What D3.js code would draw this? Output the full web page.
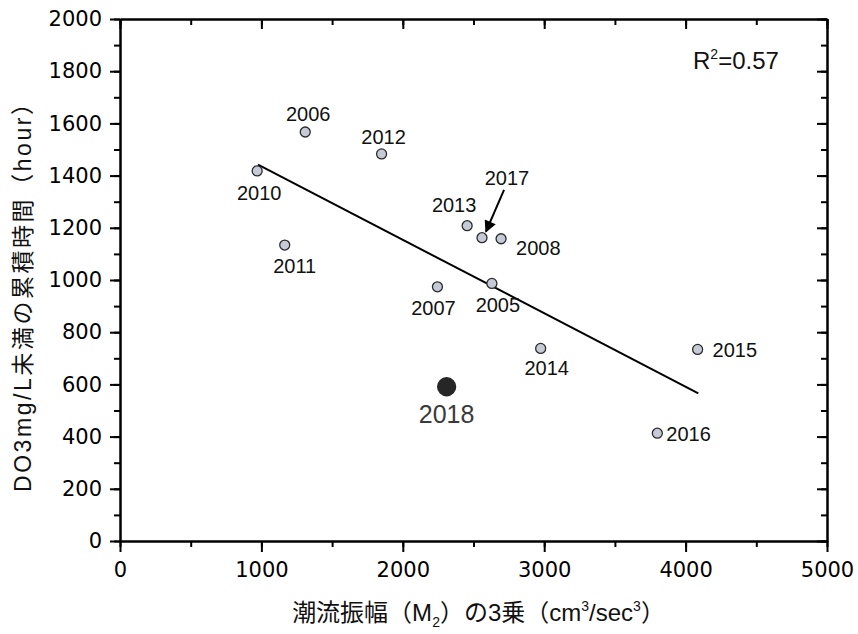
<!DOCTYPE html>
<html>
<head>
<meta charset="utf-8">
<script src="https://cdn.jsdelivr.net/npm/d3@7"></script>
<style>
  body { margin: 0; background: #fff; }
  svg { display: block; }
</style>
</head>
<body>
<div id="chart"></div>
<script>
// data
const years = ["2005", "2006", "2007", "2008", "2010", "2011", "2012", "2013", "2014", "2015", "2016", "2017", "2018"];
const tidalCube = [2630, 1310, 2245, 2695, 970, 1165, 1850, 2455, 2975, 4085, 3800, 2560, 2310];
const lowDOHours = [987, 1567, 974, 1158, 1418, 1134, 1483, 1208, 738, 734, 413, 1162, 591];
const highlightYear = "2018";
const fitLine = [[976, 1442], [4090, 566]];
const rSquared = "0.57";
const arrow2017 = [[2716, 1345], [2588, 1185]];
const xTicks = [0, 1000, 2000, 3000, 4000, 5000];
const yTicks = [0, 200, 400, 600, 800, 1000, 1200, 1400, 1600, 1800, 2000];

// label placement (pixels relative to each point)
const labelOffsets = {
  "2005": [6, 29, "middle"], "2006": [3, -11, "middle"], "2007": [-4, 28, "middle"],
  "2008": [15, 16, "start"], "2010": [2, 29, "middle"], "2011": [10, 28, "middle"],
  "2012": [2, -10, "middle"], "2013": [-13, -14, "middle"], "2014": [6, 27, "middle"],
  "2015": [15, 8, "start"], "2016": [9, 8, "start"], "2017": [25, -53, "middle"],
  "2018": [0, 36, "middle"]
};

const width = 858, height = 634;
const margin = { left: 120, right: 31, top: 19, bottom: 93 };

const svg = d3.select("#chart").append("svg")
  .attr("width", width)
  .attr("height", height);

const x = d3.scaleLinear().domain([0, 5000]).range([margin.left, width - margin.right]);
const y = d3.scaleLinear().domain([0, 2000]).range([height - margin.bottom, margin.top]);

const tickFont = "'DejaVu Sans', sans-serif";
const labelFont = "'Liberation Sans', Arial, sans-serif";
const cjkFont = "'Liberation Sans', 'Noto Sans CJK JP', sans-serif";

// axes: left/bottom ticks outward, top/right mirrored inward
function styleAxis(sel) {
  sel.selectAll("path.domain").attr("stroke", "#000").attr("stroke-width", 2);
  sel.selectAll(".tick line").attr("stroke", "#000").attr("stroke-width", 2);
  sel.selectAll(".tick text").attr("fill", "#000").attr("font-family", tickFont).attr("font-size", 21);
}

const xMinor = d3.range(0, 5001, 500);
const yMinor = d3.range(0, 2001, 100);

// minor ticks
svg.append("g").attr("transform", `translate(0,${y(0)})`)
  .call(d3.axisBottom(x).tickValues(xMinor).tickSize(6).tickSizeOuter(0).tickFormat(""))
  .call(styleAxis);
svg.append("g").attr("transform", `translate(0,${y(2000)})`)
  .call(d3.axisTop(x).tickValues(xMinor).tickSize(-6).tickSizeOuter(0).tickFormat(""))
  .call(styleAxis);
svg.append("g").attr("transform", `translate(${x(0)},0)`)
  .call(d3.axisLeft(y).tickValues(yMinor).tickSize(6).tickSizeOuter(0).tickFormat(""))
  .call(styleAxis);
svg.append("g").attr("transform", `translate(${x(5000)},0)`)
  .call(d3.axisRight(y).tickValues(yMinor).tickSize(-6).tickSizeOuter(0).tickFormat(""))
  .call(styleAxis);

// major ticks
svg.append("g").attr("transform", `translate(0,${y(0)})`)
  .call(d3.axisBottom(x).tickValues(xTicks).tickSize(11).tickSizeOuter(0).tickPadding(10).tickFormat(d3.format("d")))
  .call(styleAxis);
svg.append("g").attr("transform", `translate(0,${y(2000)})`)
  .call(d3.axisTop(x).tickValues(xTicks).tickSize(-10).tickSizeOuter(0).tickFormat(""))
  .call(styleAxis);
svg.append("g").attr("transform", `translate(${x(0)},0)`)
  .call(d3.axisLeft(y).tickValues(yTicks).tickSize(10).tickSizeOuter(0).tickPadding(8).tickFormat(d3.format("d")))
  .call(styleAxis);
svg.append("g").attr("transform", `translate(${x(5000)},0)`)
  .call(d3.axisRight(y).tickValues(yTicks).tickSize(-10).tickSizeOuter(0).tickFormat(""))
  .call(styleAxis);

// regression line
svg.append("path")
  .datum(fitLine)
  .attr("d", d3.line().x(d => x(d[0])).y(d => y(d[1])))
  .attr("fill", "none")
  .attr("stroke", "#000")
  .attr("stroke-width", 2);

// points
const points = years.map((yr, i) => ({ year: yr, x: tidalCube[i], y: lowDOHours[i] }));

svg.append("g").selectAll("circle")
  .data(points)
  .enter()
  .append("circle")
  .attr("cx", d => x(d.x))
  .attr("cy", d => y(d.y))
  .attr("r", d => d.year === highlightYear ? 9 : 5)
  .attr("fill", d => d.year === highlightYear ? "#262626" : "#c6cad6")
  .attr("stroke", d => d.year === highlightYear ? "#262626" : "#2b2b2b")
  .attr("stroke-width", 1.3);

svg.append("g").selectAll("text")
  .data(points)
  .enter()
  .append("text")
  .attr("x", d => x(d.x) + labelOffsets[d.year][0])
  .attr("y", d => y(d.y) + labelOffsets[d.year][1])
  .attr("text-anchor", d => labelOffsets[d.year][2])
  .attr("font-family", labelFont)
  .attr("font-size", d => d.year === highlightYear ? 25 : 20)
  .attr("fill", d => d.year === highlightYear ? "#3a3a3a" : "#111")
  .text(d => d.year);

// arrow pointing at 2017
svg.append("defs").append("marker")
  .attr("id", "arrowhead")
  .attr("viewBox", "0 0 10 10")
  .attr("refX", 9)
  .attr("refY", 5)
  .attr("markerWidth", 7)
  .attr("markerHeight", 6)
  .attr("markerUnits", "strokeWidth")
  .attr("orient", "auto")
  .append("path")
  .attr("d", "M0,0 L10,5 L0,10 Z")
  .attr("fill", "#000");

svg.append("line")
  .attr("x1", x(arrow2017[0][0]))
  .attr("y1", y(arrow2017[0][1]))
  .attr("x2", x(arrow2017[1][0]))
  .attr("y2", y(arrow2017[1][1]))
  .attr("stroke", "#000")
  .attr("stroke-width", 2)
  .attr("marker-end", "url(#arrowhead)");

// R squared
const r2 = svg.append("text")
  .attr("x", 693)
  .attr("y", 69)
  .attr("font-family", labelFont)
  .attr("font-size", 24)
  .attr("fill", "#111");
r2.append("tspan").text("R");
r2.append("tspan").attr("font-size", 14).attr("dy", -10).text("2");
r2.append("tspan").attr("dy", 10).text("=" + rSquared);

// axis titles
const xt = svg.append("text")
  .attr("x", (x(0) + x(5000)) / 2 + 5)
  .attr("y", 621)
  .attr("text-anchor", "middle")
  .attr("font-family", cjkFont)
  .attr("font-size", 24)
  .attr("fill", "#111");
xt.append("tspan").text("潮流振幅（M");
xt.append("tspan").attr("font-size", 14).attr("dy", 6).text("2");
xt.append("tspan").attr("dy", -6).text("）の3乗（cm");
xt.append("tspan").attr("font-size", 14).attr("dy", -10).text("3");
xt.append("tspan").attr("dy", 10).text("/sec");
xt.append("tspan").attr("font-size", 14).attr("dy", -10).text("3");
xt.append("tspan").attr("dy", 10).text("）");

svg.append("text")
  .attr("transform", "translate(31,292) rotate(-90)")
  .attr("text-anchor", "middle")
  .attr("font-family", cjkFont)
  .attr("font-size", 23)
  .attr("fill", "#111")
  .attr("textLength", 400)
  .attr("lengthAdjust", "spacing")
  .text("DO3mg/L未満の累積時間（hour）");
</script>
</body>
</html>
